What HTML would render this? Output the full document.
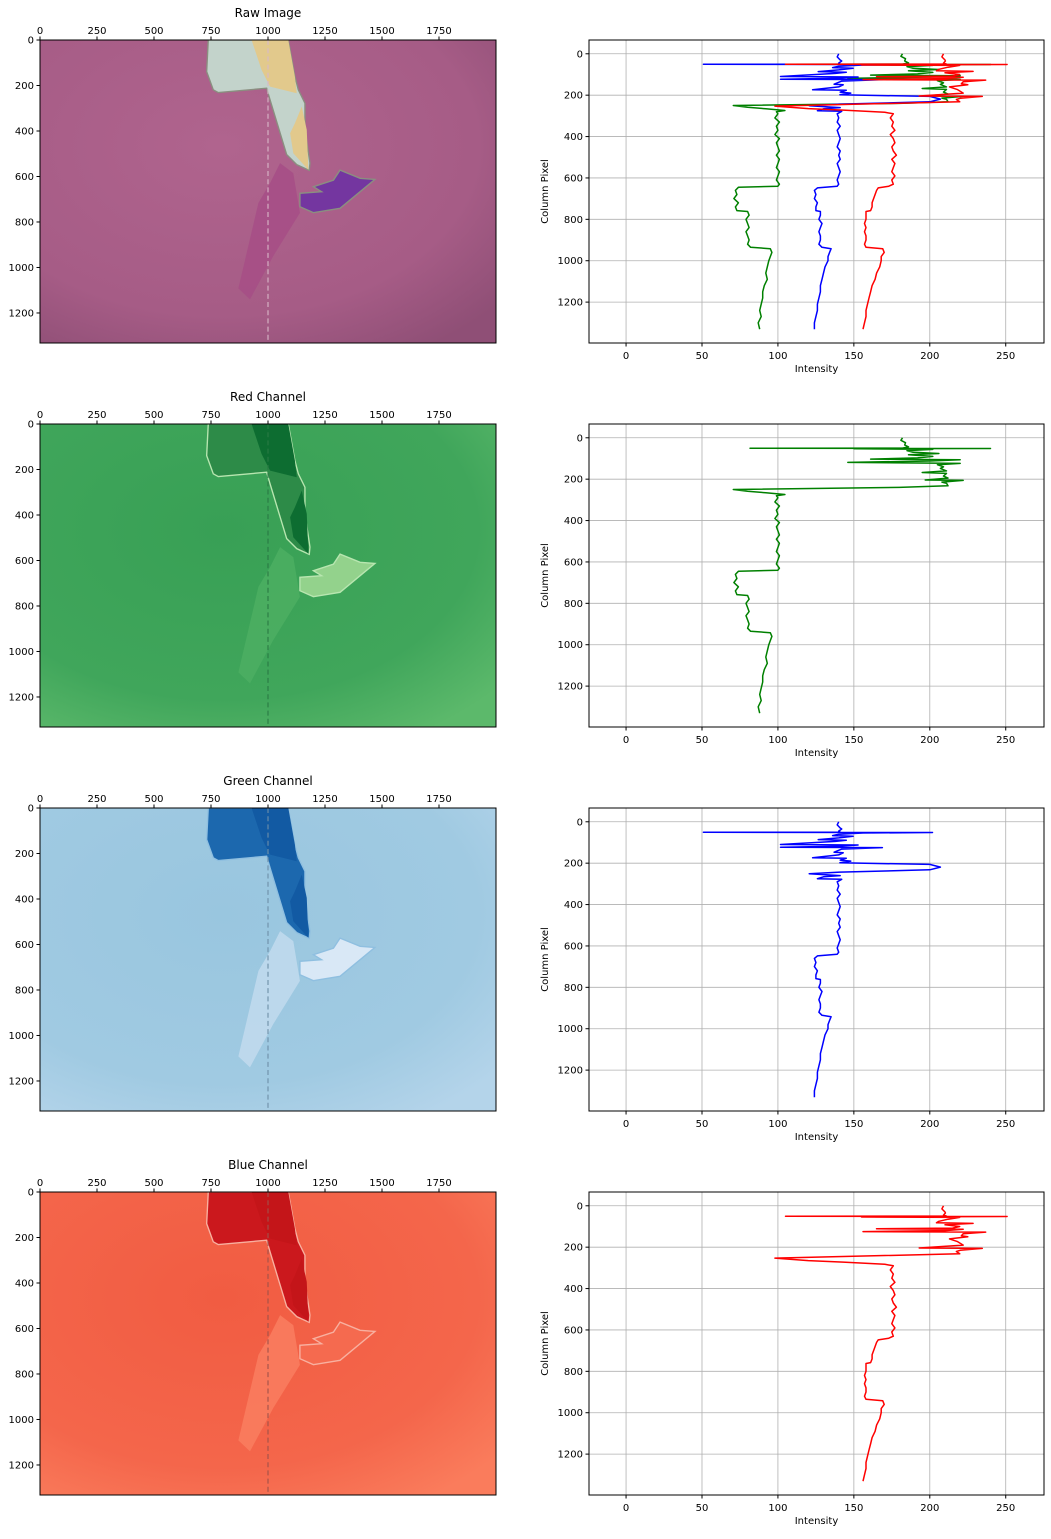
<!DOCTYPE html>
<html><head><meta charset="utf-8"><style>
body{margin:0;background:#fff}
svg text{font-family:"DejaVu Sans","Liberation Sans",sans-serif;fill:#000}
</style></head><body>
<svg id="fig" width="1051" height="1534" xmlns="http://www.w3.org/2000/svg">
<rect width="1051" height="1534" fill="#fff"/>
<defs>
<radialGradient id="gRaw" cx="0.4" cy="0.35" r="0.8"><stop offset="0" stop-color="#b0648e"/><stop offset="0.7" stop-color="#a65c86"/><stop offset="1" stop-color="#8f4f76"/></radialGradient>
<radialGradient id="gGreen" cx="0.4" cy="0.35" r="0.8"><stop offset="0" stop-color="#38a055"/><stop offset="0.7" stop-color="#40a65b"/><stop offset="1" stop-color="#5cb96b"/></radialGradient>
<radialGradient id="gBlue" cx="0.4" cy="0.35" r="0.8"><stop offset="0" stop-color="#99c6df"/><stop offset="0.7" stop-color="#a0cae2"/><stop offset="1" stop-color="#b4d4ea"/></radialGradient>
<radialGradient id="gRed" cx="0.4" cy="0.35" r="0.8"><stop offset="0" stop-color="#f15c42"/><stop offset="0.7" stop-color="#f4664b"/><stop offset="1" stop-color="#fa7c5c"/></radialGradient>
</defs>
</svg>
<script>
const greenProfile=[[0,182],[12,181],[24,184],[35,183.5],[44,186],[50,182],[51,81.6],[52,240],[53,150],[56,202],[62,185],[70,189],[76,206],[82,186],[90,202],[97,192],[103,161],[106,220],[112,200],[119,146],[124,220],[130,205],[140,209],[148,207],[160,211],[168,195],[172,211],[185,209],[195,212],[204,197],[206,222],[214,208],[220,211],[232,212],[240,180],[250,70.6],[258,80],[266,92],[274,104.6],[280,99],[290,100],[310,98],[330,101],[350,99],[370,100],[390,98],[410,101],[430,99],[450,100],[470,101],[490,99],[510,101],[530,100],[550,99],[570,101],[590,100],[610,99],[630,101],[640,100],[645,74],[660,72],[680,73],[700,71],[720,74],[740,72],[758,73],[762,80],[780,81],[800,79],[820,80],[840,81],[860,79],[880,80],[900,81],[920,80],[935,82],[942,95],[960,96],[980,95],[1000,94],[1030,93],[1060,92],[1090,93],[1120,91],[1150,90],[1180,90],[1210,89],[1240,88],[1270,89],[1300,87],[1331,88]];
const blueProfile=[[0,140],[15,139],[30,141],[35,142],[45,140],[50,141],[51,50.9],[52,201.8],[54,156],[60,140],[67,136],[70,149.5],[78,140],[86,126.5],[89,145],[95,138],[110,101.7],[112,152.8],[118,140],[123,101.7],[125,168.8],[132,142],[147,137],[150,143],[160,140],[174,122.8],[176,145],[185,141],[190,148],[198,140.8],[206,200],[219,207],[232,200],[243,140.8],[251,120.6],[260,141],[266,130],[275,126],[278,142],[290,139],[310,140],[330,139],[350,141],[370,139],[390,140],[410,141],[430,140],[450,139],[470,141],[490,140],[510,141],[530,139],[550,140],[570,141],[590,140],[610,139],[630,140],[640,139],[648,126],[660,124],[680,125],[700,124],[720,126],[740,125],[758,125],[762,128],[780,128],[800,127],[820,129],[840,128],[860,127],[880,128],[900,128],[920,127],[935,129],[942,135],[960,134],[980,133],[1000,133],[1030,131],[1060,130],[1090,129],[1120,128],[1150,128],[1180,127],[1210,126],[1240,126],[1270,125],[1300,124],[1331,124]];
const redProfile=[[0,209],[15,208],[30,210],[35,210.3],[45,209],[50,211],[51,105],[52,250.9],[54,155],[56,219.7],[65,212],[75,206],[82,204.4],[85,228.5],[92,210],[100,219.7],[108,215],[111,164.9],[113,222],[120,210],[125,156],[127,236.8],[135,222],[145,220.8],[150,225],[160,213],[172,218],[190,222],[204,193],[206,234.6],[215,220],[221,217.5],[232,219.7],[253,98],[265,120],[272,143],[283,170.4],[290,176],[310,174],[330,176],[350,175],[370,177],[390,174],[410,176],[430,177],[450,175],[470,176],[490,178],[510,175],[530,177],[550,176],[570,175],[590,177],[610,175],[630,176],[640,173],[648,166],[660,165],[680,164],[700,163],[720,162],[740,162],[758,161],[762,158],[780,158],[800,158],[820,157],[840,158],[860,157],[880,158],[900,158],[920,157],[935,158],[942,169],[960,170],[980,168],[1000,168],[1030,167],[1060,165],[1090,164],[1120,162],[1150,161],[1180,160],[1210,159],[1240,158],[1270,158],[1300,157],[1331,156]];
const intensityTicks=[0,50,100,150,200,250];
const rowTicks=[0,200,400,600,800,1000,1200];
const imgXTicks=[0,250,500,750,1000,1250,1500,1750];
const imgYTicks=[0,200,400,600,800,1000,1200];
const titles=["Raw Image","Red Channel","Green Channel","Blue Channel"];

const NS="http://www.w3.org/2000/svg";
const fig=document.getElementById('fig');
function el(tag,attrs,parent){const e=document.createElementNS(NS,tag);for(const k in attrs)e.setAttribute(k,attrs[k]);(parent||fig).appendChild(e);return e;}
function txt(s,attrs,parent){const t=el('text',attrs,parent);t.textContent=s;return t;}

const IMG_W=2000,IMG_H=1332;
const IX0=40,IW=456,PH=303;
const PX0=589,PW=455;
const XMIN=-24.4,XMAX=275.2,YMIN=-66.6,YMAX=1397.6;
const tops=[40,424,808,1192];

const shapes={
 flake:"738,0 731,139 760,219 782,231 994,212 1009,263 1082,504 1126,548 1181,573 1184,541 1162,395 1162,278 1133,219 1118,161 1089,0",
 inA:"928,0 972,132 1009,205 1126,234 1118,161 1089,0",
 inB:"1097,410 1111,498 1177,571 1170,395 1148,293 1118,366",
 sliver:"870,1092 921,1140 1023,950 1140,760 1111,585 1053,541 1009,629 958,716",
 purple:"1140,674 1140,733 1199,759 1316,740 1469,613 1404,608 1316,572 1287,616 1199,645 1235,667"
};
const palettes=[
 {bg:"url(#gRaw)",flake:"#c3d3cb",inner:"#e2c98c",sliver:"#a64f86",purple:"#7436a0",edge:"#8a8f80",dash:"#d8b8c8"},
 {bg:"url(#gGreen)",flake:"#2d8b48",inner:"#0d6d31",sliver:"#4bae62",purple:"#93d28c",edge:"#b8e6b0",dash:"#2a7a44"},
 {bg:"url(#gBlue)",flake:"#1c68ae",inner:"#125aa3",sliver:"#c0d9ed",purple:"#d9e8f6",edge:"#8fbfe0",dash:"#6e8fa8"},
 {bg:"url(#gRed)",flake:"#cb181d",inner:"#c41519",sliver:"#f97c5e",purple:"#f56a4f",edge:"#f8b0a0",dash:"#a0524a"}
];

function xI(v){return IX0+v/IMG_W*IW;}
function yI(top,r){return top+r/IMG_H*PH;}
function xP(v){return PX0+(v-XMIN)/(XMAX-XMIN)*PW;}
function yP(top,r){return top+(r-YMIN)/(YMAX-YMIN)*PH;}

tops.forEach((top,i)=>{
 const p=palettes[i];
 // image panel
 const im=el('svg',{x:IX0,y:top,width:IW,height:PH,viewBox:`0 0 ${IMG_W} ${IMG_H}`,preserveAspectRatio:'none'});
 
 
 el('rect',{x:0,y:0,width:IMG_W,height:IMG_H,fill:p.bg},im);
 el('polygon',{points:shapes.sliver,fill:p.sliver,opacity:0.9},im);
 el('polygon',{points:shapes.purple,fill:p.purple,stroke:p.edge,'stroke-width':6},im);
 el('polygon',{points:shapes.flake,fill:p.flake,stroke:p.edge,'stroke-width':6},im);
 el('polygon',{points:shapes.inA,fill:p.inner},im);
 el('polygon',{points:shapes.inB,fill:p.inner},im);
 const dl=el('line',{x1:1000,y1:0,x2:1000,y2:IMG_H,stroke:p.dash,'stroke-width':6,'stroke-dasharray':'22,14',opacity:0.8},im);
 
 
 el('rect',{x:IX0,y:top,width:IW,height:PH,fill:'none',stroke:'#000','stroke-width':1});
 const tt=txt(titles[i],{x:IX0+IW/2,y:top-23,'text-anchor':'middle','font-size':12});
 
 
 imgXTicks.forEach(v=>{const x=xI(v);el('line',{x1:x,y1:top,x2:x,y2:top-3.5,stroke:'#000'});
  const t=txt(v,{x:x,y:top-6,'text-anchor':'middle','font-size':10});
  
  });
 imgYTicks.forEach(v=>{const y=yI(top,v);el('line',{x1:IX0,y1:y,x2:IX0-3.5,y2:y,stroke:'#000'});
  const t=txt(v,{x:IX0-6,y:y+3.5,'text-anchor':'end','font-size':10});
  
  });

 // profile plot
 const g=el('g',{});
 
 
 intensityTicks.forEach(v=>{const x=xP(v);el('line',{x1:x,y1:top,x2:x,y2:top+PH,stroke:'#b0b0b0','stroke-width':0.8},g);
  el('line',{x1:x,y1:top+PH,x2:x,y2:top+PH+3.5,stroke:'#000'},g);
  const t=txt(v,{x:x,y:top+PH+16,'text-anchor':'middle','font-size':10},g);
  
  });
 rowTicks.forEach(v=>{const y=yP(top,v);el('line',{x1:PX0,y1:y,x2:PX0+PW,y2:y,stroke:'#b0b0b0','stroke-width':0.8},g);
  el('line',{x1:PX0,y1:y,x2:PX0-3.5,y2:y,stroke:'#000'},g);
  const t=txt(v,{x:PX0-6,y:y+3.5,'text-anchor':'end','font-size':10},g);
  
  });
 const series=i===0?[[greenProfile,'green'],[blueProfile,'blue'],[redProfile,'red']]:
   i===1?[[greenProfile,'green']]:i===2?[[blueProfile,'blue']]:[[redProfile,'red']];
 series.forEach(([d,c])=>{
  const pts=d.map(([r,v])=>xP(v).toFixed(1)+','+yP(top,r).toFixed(1)).join(' ');
  const pl=el('polyline',{points:pts,fill:'none',stroke:c,'stroke-width':1.5,'stroke-linejoin':'round'},g);
  
  
 });
 el('rect',{x:PX0,y:top,width:PW,height:PH,fill:'none',stroke:'#000','stroke-width':1},g);
 const xl=txt('Intensity',{x:PX0+PW/2,y:top+PH+29,'text-anchor':'middle','font-size':10},g);
 
 
 const yl=txt('Column Pixel',{x:0,y:0,'text-anchor':'middle','font-size':10,transform:`translate(548,${top+PH/2}) rotate(-90)`},g);
 
 
});
</script>
</body></html>
